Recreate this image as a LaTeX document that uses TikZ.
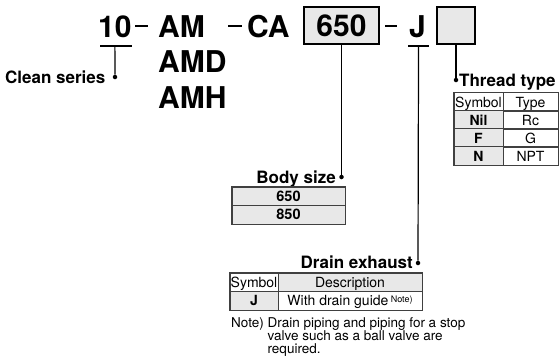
\documentclass[tikz,border=0pt]{standalone}
\usepackage{fontspec}
\setmainfont{TeX Gyre Heros}
\usepackage{xcolor}
\usepackage{tikz}
\usetikzlibrary{positioning}
\definecolor{cellgray}{gray}{0.91}

\begin{document}
\begin{tikzpicture}[x=1pt, y=-1pt,
    code/.style={font=\fontsize{30}{30}\selectfont\bfseries, inner sep=0pt, anchor=base west},
    codebox/.style={draw, line width=1.3pt, fill=cellgray, minimum height=37pt, inner sep=0pt, font=\fontsize{30}{30}\selectfont\bfseries},
    rule/.style={line width=2.2pt},
    lbl/.style={font=\fontsize{17}{17}\selectfont\bfseries, inner sep=0pt},
    dot/.style={circle, fill, inner sep=0pt, minimum size=4.5pt},
    cell/.style={draw=black!75, line width=0.7pt, inner sep=0pt, minimum height=18.5pt, text height=10pt, text depth=0pt, font=\fontsize{14}{14}\selectfont},
    gcell/.style={cell, fill=cellgray},
    frame/.style={draw=black!75, line width=1.3pt}]
    \useasboundingbox (0,0) rectangle (560,362);
    % model code
    \node[code] (c10) at (98,37) {10};
    \node[code] (cam) at (158,37) {AM};
    \node[code] (camd) at (158,72) {AMD};
    \node[code] (camh) at (158,108) {AMH};
    \node[code] (cca) at (247,37) {CA};
    \node[codebox, minimum width=75pt] (c650) at (341.5,25.5) {650};
    \node[code] (cj) at (409,37) {J};
    \node[codebox, minimum width=38pt] (cbox) at (456,25.5) {};
    \draw[rule] (135,26) -- (148,26);
    \draw[rule] (228,26) -- (242,26);
    \draw[rule] (385,26) -- (397,26);
    % labels
    \node[dot] (dclean) at (115,77) {};
    \node[lbl, left=7pt of dclean] (clean) {Clean series};
    \node[dot] (dthread) at (456,80) {};
    \node[lbl, anchor=base west] (thread) at (459,86) {Thread type};
    \node[dot] (dbody) at (341.5,177) {};
    \node[lbl, anchor=base east] (body) at (336,183) {Body size};
    \node[dot] (ddrain) at (418,263) {};
    \node[lbl, anchor=base east] (drain) at (413,268) {Drain exhaust};
    \draw[line width=1.2pt] ([xshift=2pt,yshift=-9pt]c10.base west) -- ([yshift=-9pt]c10.base east);
    \draw[line width=1.2pt] ([yshift=-9pt]c10.base) -- (dclean);
    \draw[line width=1.2pt] ([xshift=-1pt,yshift=-9pt]cj.base west) -- ([xshift=3pt,yshift=-9pt]cj.base east);
    \draw[line width=1.2pt] ([xshift=1pt,yshift=-9pt]cj.base) -- (ddrain);
    \draw[line width=1.2pt] (c650.south) -- (dbody);
    \draw[line width=1.2pt] (cbox.south) -- (dthread);
    % thread type table
    \node[cell, minimum width=49pt] (tsym) at (478.5,102) {Symbol};
    \node[cell, minimum width=55pt] (ttype) at (530.5,102) {Type};
    \node[gcell, minimum width=49pt] (tnil) at (478.5,120) {\bfseries Nil};
    \node[cell, minimum width=55pt] (trc) at (530.5,120) {Rc};
    \node[gcell, minimum width=49pt] (tf) at (478.5,138) {\bfseries F};
    \node[cell, minimum width=55pt] (tg) at (530.5,138) {G};
    \node[gcell, minimum width=49pt] (tn) at (478.5,156) {\bfseries N};
    \node[cell, minimum width=55pt] (tnpt) at (530.5,156) {NPT};
    \draw[frame] (tsym.north west) rectangle (tnpt.south east);
    % body size table
    \node[gcell, minimum width=113pt, font=\fontsize{14.5}{14.5}\selectfont\bfseries] (b650) at (288.5,196.25) {650};
    \node[gcell, minimum width=113pt, font=\fontsize{14.5}{14.5}\selectfont\bfseries] (b850) at (288.5,214.75) {850};
    \draw[frame] (b650.north west) rectangle (b850.south east);
    % drain exhaust table
    \node[cell, minimum width=48pt] (dsym) at (254,282.25) {Symbol};
    \node[gcell, minimum width=144pt] (ddesc) at (350,282.25) {Description};
    \node[gcell, minimum width=48pt] (dj) at (254,300.75) {\bfseries J};
    \node[cell, minimum width=144pt] (dguide) at (350,300.75) {With drain guide\,{\fontsize{9}{9}\selectfont\raisebox{3.5pt}{Note)}}};
    \draw[frame] (dsym.north west) rectangle (dguide.south east);
    \node[anchor=north west, inner sep=0pt, align=left, font=\fontsize{13.5}{13}\selectfont] (note) at (231,317)
        {Note) Drain piping and piping for a stop\\
         \phantom{Note)} valve such as a ball valve are\\
         \phantom{Note)} required.};
\end{tikzpicture}
\end{document}
